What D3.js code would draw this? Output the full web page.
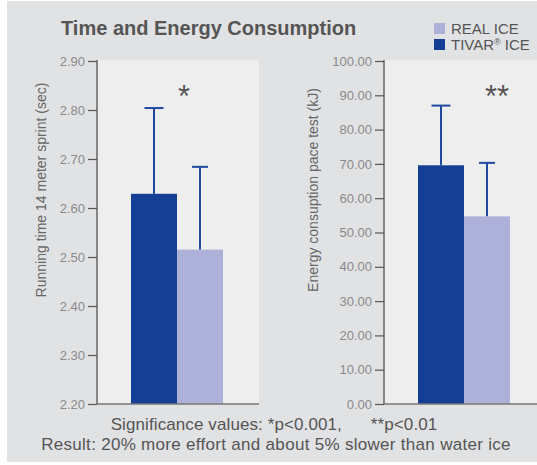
<!DOCTYPE html>
<html>
<head>
<meta charset="utf-8">
<script src="https://cdn.jsdelivr.net/npm/d3@7"></script>
<style>
  body { margin: 0; background: #fff; }
  svg text { font-family: "Liberation Sans", Arial, sans-serif; }
</style>
</head>
<body>
<div class="svg-container"></div>
<script>
var width = 537, height = 465;

// data
var groups = ["TIVAR® ICE", "REAL ICE"];
var legendOrder = ["REAL ICE", "TIVAR® ICE"];
var sprintMeans = [2.629, 2.515];
var sprintErrors = [0.175, 0.169];
var energyMeans = [69.6, 54.7];
var energyErrors = [17.4, 15.6];
var sprintTicks = [2.20, 2.30, 2.40, 2.50, 2.60, 2.70, 2.80, 2.90];
var energyTicks = [0, 10, 20, 30, 40, 50, 60, 70, 80, 90, 100];
var sprintStars = "*";
var energyStars = "**";

var colors = {"TIVAR® ICE": "#143f94", "REAL ICE": "#adb0d8"};

var svg = d3.select(".svg-container").append("svg")
  .attr("width", width).attr("height", height);

svg.append("rect").attr("x", 7).attr("y", 1)
  .attr("width", width - 7).attr("height", 461)
  .attr("fill", "#e1e2e4");

svg.append("text").attr("x", 61).attr("y", 35)
  .attr("font-size", 20).attr("font-weight", "bold")
  .attr("fill", "#555")
  .text("Time and Energy Consumption");

// legend
var legend = svg.append("g").selectAll("g").data(legendOrder).enter().append("g")
  .attr("transform", (d, i) => "translate(434," + (23 + i * 16) + ")");
legend.append("rect").attr("width", 11).attr("height", 11)
  .attr("fill", d => colors[d]);
legend.append("text").attr("x", 17).attr("y", 11)
  .attr("font-size", 15).attr("fill", "#555")
  .each(function(d) {
    var t = d3.select(this);
    if (d.indexOf("®") >= 0) {
      var parts = d.split("®");
      t.append("tspan").text(parts[0]);
      t.append("tspan").attr("font-size", 9).attr("dy", -5).text("®");
      t.append("tspan").attr("dy", 5).text(parts[1]);
    } else {
      t.text(d);
    }
  });

var drawChart = (opts) => {
  var g = svg.append("g");
  var y = d3.scaleLinear().domain(opts.domain).range([404, 61]);
  var x = d3.scaleBand().domain(groups).range([opts.left + 34, opts.left + 126]);

  g.append("rect").attr("x", opts.left).attr("y", 60)
    .attr("width", opts.plotWidth).attr("height", 344)
    .attr("fill", "#eeeeee");

  // error bars (behind bars)
  var errs = g.selectAll(".err").data(groups).enter().append("g");
  errs.append("line")
    .attr("x1", d => x(d) + x.bandwidth() / 2).attr("x2", d => x(d) + x.bandwidth() / 2)
    .attr("y1", (d, i) => y(opts.means[i])).attr("y2", (d, i) => y(opts.means[i] + opts.errors[i]))
    .attr("stroke", "#1e4aa0").attr("stroke-width", 2);
  errs.append("line")
    .attr("x1", (d, i) => x(d) + x.bandwidth() / 2 - (i ? 8 : 9.5))
    .attr("x2", (d, i) => x(d) + x.bandwidth() / 2 + (i ? 8 : 9.5))
    .attr("y1", (d, i) => y(opts.means[i] + opts.errors[i])).attr("y2", (d, i) => y(opts.means[i] + opts.errors[i]))
    .attr("stroke", "#1e4aa0").attr("stroke-width", 2);

  g.selectAll(".bar").data(groups).enter().append("rect")
    .attr("x", d => x(d)).attr("width", x.bandwidth())
    .attr("y", (d, i) => y(opts.means[i]))
    .attr("height", (d, i) => 404 - y(opts.means[i]))
    .attr("fill", d => colors[d]);

  var axis = d3.axisLeft(y).tickValues(opts.ticks).tickFormat(d3.format(opts.fmt))
    .tickSizeInner(9).tickSizeOuter(0).tickPadding(3);
  var ag = g.append("g").attr("transform", "translate(" + opts.left + ",0)").call(axis);
  ag.select(".domain").attr("stroke", "#666").attr("stroke-width", 1.5)
    .attr("d", "M0,60V404");
  ag.selectAll(".tick line").attr("stroke", "#555").attr("stroke-width", 1.2);
  ag.selectAll(".tick text").attr("fill", "#8a8a8a").attr("font-size", 13)
    .attr("font-family", "Liberation Sans, Arial, sans-serif");

  g.append("line").attr("x1", opts.left).attr("x2", opts.left + opts.plotWidth)
    .attr("y1", 404).attr("y2", 404)
    .attr("stroke", "#777").attr("stroke-width", 1.5);

  g.append("text")
    .attr("transform", "translate(" + opts.titleX + ",190) rotate(-90)")
    .attr("text-anchor", "middle").attr("font-size", 14).attr("fill", "#666")
    .text(opts.title);

  g.append("text").attr("x", opts.starX).attr("y", 107)
    .attr("text-anchor", "middle").attr("font-size", 31).attr("fill", "#555")
    .text(opts.stars);
};

drawChart({left: 97, plotWidth: 162, domain: [2.2, 2.9], ticks: sprintTicks, fmt: ".2f",
  means: sprintMeans, errors: sprintErrors, title: "Running time 14 meter sprint (sec)",
  titleX: 46, starX: 184, stars: sprintStars});
drawChart({left: 384, plotWidth: 153, domain: [0, 100], ticks: energyTicks, fmt: ".2f",
  means: energyMeans, errors: energyErrors, title: "Energy consuption pace test (kJ)",
  titleX: 318, starX: 497, stars: energyStars});

svg.append("text").attr("x", 274).attr("y", 430)
  .attr("text-anchor", "middle").attr("font-size", 17).attr("fill", "#555")
  .attr("letter-spacing", 0.1)
  .attr("xml:space", "preserve")
  .text("Significance values: *p<0.001,      **p<0.01");
svg.append("text").attr("x", 276).attr("y", 450)
  .attr("text-anchor", "middle").attr("font-size", 17).attr("fill", "#555")
  .attr("letter-spacing", 0.3)
  .text("Result: 20% more effort and about 5% slower than water ice");
</script>
</body>
</html>
